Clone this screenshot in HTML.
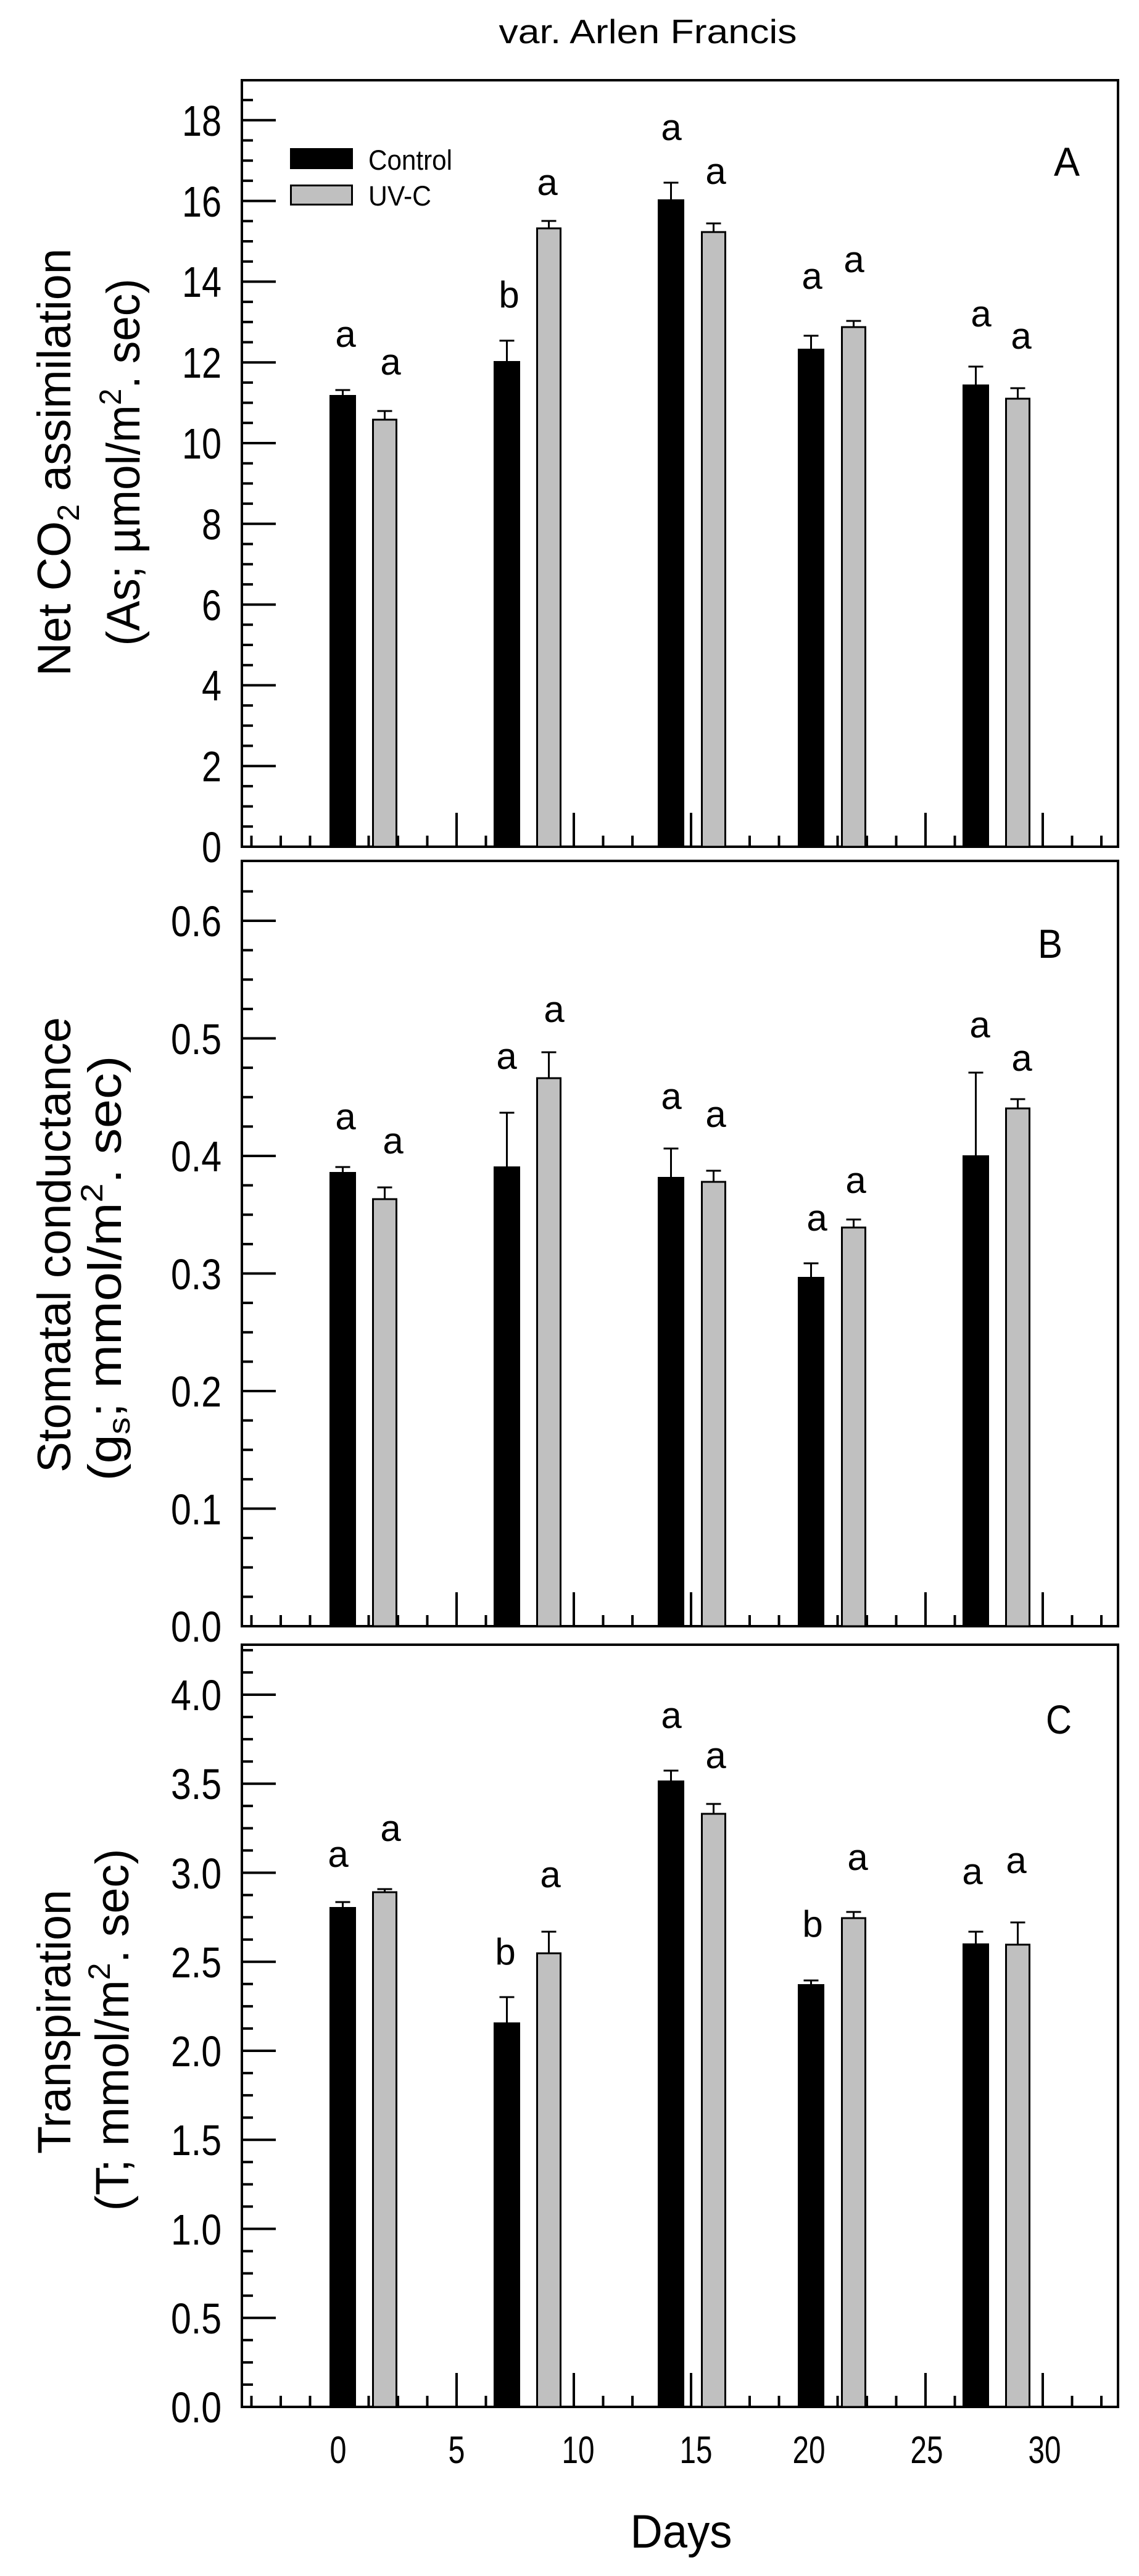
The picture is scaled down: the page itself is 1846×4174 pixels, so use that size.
<!DOCTYPE html>
<html><head><meta charset="utf-8"><style>html,body{margin:0;padding:0;background:#fff}svg{display:block}text{font-family:"Liberation Sans",Arial,sans-serif;fill:#000}</style></head>
<body>
<svg width="1846" height="4174" viewBox="0 0 1846 4174" xmlns="http://www.w3.org/2000/svg">
<text x="1050" y="70" font-size="55" text-anchor="middle" textLength="483" lengthAdjust="spacingAndGlyphs">var. Arlen Francis</text>

<g stroke="#000" stroke-width="4" fill="none">
<rect x="392" y="130" width="1420" height="1242"/>
<rect x="392" y="1395" width="1420" height="1240"/>
<rect x="392" y="2665" width="1420" height="1235"/>
</g>
<g stroke="#000" stroke-width="4" fill="none">
<path d="M392 1372h55M392 1241.2h55M392 1110.4h55M392 979.6h55M392 848.8h55M392 718h55M392 587.2h55M392 456.4h55M392 325.6h55M392 194.8h55"/>
<path d="M392 1339.3h18M392 1306.6h18M392 1273.9h18M392 1208.5h18M392 1175.8h18M392 1143.1h18M392 1077.7h18M392 1045h18M392 1012.3h18M392 946.9h18M392 914.2h18M392 881.5h18M392 816.1h18M392 783.4h18M392 750.7h18M392 685.3h18M392 652.6h18M392 619.9h18M392 554.5h18M392 521.8h18M392 489.1h18M392 423.7h18M392 391h18M392 358.3h18M392 292.9h18M392 260.2h18M392 227.5h18M392 162.1h18"/>
<path d="M392 2635h55M392 2444.5h55M392 2254h55M392 2063.5h55M392 1873h55M392 1682.5h55M392 1492h55"/>
<path d="M392 2587.4h18M392 2539.8h18M392 2492.1h18M392 2396.9h18M392 2349.3h18M392 2301.6h18M392 2206.4h18M392 2158.8h18M392 2111.1h18M392 2015.9h18M392 1968.3h18M392 1920.6h18M392 1825.4h18M392 1777.8h18M392 1730.1h18M392 1634.9h18M392 1587.3h18M392 1539.6h18M392 1444.4h18"/>
<path d="M392 3900h55M392 3755.75h55M392 3611.5h55M392 3467.25h55M392 3323h55M392 3178.75h55M392 3034.5h55M392 2890.25h55M392 2746h55"/>
<path d="M392 3863.9h18M392 3827.9h18M392 3791.8h18M392 3719.7h18M392 3683.6h18M392 3647.6h18M392 3575.4h18M392 3539.4h18M392 3503.3h18M392 3431.2h18M392 3395.1h18M392 3359.1h18M392 3286.9h18M392 3250.9h18M392 3214.8h18M392 3142.7h18M392 3106.6h18M392 3070.6h18M392 2998.4h18M392 2962.4h18M392 2926.3h18M392 2854.2h18M392 2818.1h18M392 2782.1h18M392 2709.9h18M392 2673.9h18"/>
</g>
<defs>
<path id="xt" d="M550 0v-55M740 0v-55M930 0v-55M1120 0v-55M1310 0v-55M1500 0v-55M1690 0v-55M407.5 0v-18M455 0v-18M502.5 0v-18M597.5 0v-18M645 0v-18M692.5 0v-18M787.5 0v-18M835 0v-18M882.5 0v-18M977.5 0v-18M1025 0v-18M1072.5 0v-18M1167.5 0v-18M1215 0v-18M1262.5 0v-18M1357.5 0v-18M1405 0v-18M1452.5 0v-18M1547.5 0v-18M1595 0v-18M1642.5 0v-18M1737.5 0v-18M1785 0v-18"/>
</defs>
<g stroke="#000" stroke-width="4" fill="none">
<use href="#xt" transform="translate(0,1372)"/>
<use href="#xt" transform="translate(0,2635)"/>
<use href="#xt" transform="translate(0,3900)"/>
</g>

<g font-size="70" text-anchor="end">
<text x="359" y="1397" textLength="32" lengthAdjust="spacingAndGlyphs">0</text>
<text x="359" y="1266" textLength="32" lengthAdjust="spacingAndGlyphs">2</text>
<text x="359" y="1135" textLength="32" lengthAdjust="spacingAndGlyphs">4</text>
<text x="359" y="1005" textLength="32" lengthAdjust="spacingAndGlyphs">6</text>
<text x="359" y="874" textLength="32" lengthAdjust="spacingAndGlyphs">8</text>
<text x="359" y="743" textLength="64" lengthAdjust="spacingAndGlyphs">10</text>
<text x="359" y="612" textLength="64" lengthAdjust="spacingAndGlyphs">12</text>
<text x="359" y="481" textLength="64" lengthAdjust="spacingAndGlyphs">14</text>
<text x="359" y="351" textLength="64" lengthAdjust="spacingAndGlyphs">16</text>
<text x="359" y="220" textLength="64" lengthAdjust="spacingAndGlyphs">18</text>

<text x="359" y="2660" textLength="82" lengthAdjust="spacingAndGlyphs">0.0</text>
<text x="359" y="2470" textLength="82" lengthAdjust="spacingAndGlyphs">0.1</text>
<text x="359" y="2279" textLength="82" lengthAdjust="spacingAndGlyphs">0.2</text>
<text x="359" y="2089" textLength="82" lengthAdjust="spacingAndGlyphs">0.3</text>
<text x="359" y="1898" textLength="82" lengthAdjust="spacingAndGlyphs">0.4</text>
<text x="359" y="1708" textLength="82" lengthAdjust="spacingAndGlyphs">0.5</text>
<text x="359" y="1517" textLength="82" lengthAdjust="spacingAndGlyphs">0.6</text>

<text x="359" y="3925" textLength="82" lengthAdjust="spacingAndGlyphs">0.0</text>
<text x="359" y="3781" textLength="82" lengthAdjust="spacingAndGlyphs">0.5</text>
<text x="359" y="3637" textLength="82" lengthAdjust="spacingAndGlyphs">1.0</text>
<text x="359" y="3492" textLength="82" lengthAdjust="spacingAndGlyphs">1.5</text>
<text x="359" y="3348" textLength="82" lengthAdjust="spacingAndGlyphs">2.0</text>
<text x="359" y="3204" textLength="82" lengthAdjust="spacingAndGlyphs">2.5</text>
<text x="359" y="3060" textLength="82" lengthAdjust="spacingAndGlyphs">3.0</text>
<text x="359" y="2915" textLength="82" lengthAdjust="spacingAndGlyphs">3.5</text>
<text x="359" y="2771" textLength="82" lengthAdjust="spacingAndGlyphs">4.0</text>
</g>
<g font-size="62" text-anchor="middle">
<text x="548" y="3991" textLength="27" lengthAdjust="spacingAndGlyphs">0</text>
<text x="740" y="3991" textLength="27" lengthAdjust="spacingAndGlyphs">5</text>
<text x="937" y="3991" textLength="53" lengthAdjust="spacingAndGlyphs">10</text>
<text x="1128" y="3991" textLength="53" lengthAdjust="spacingAndGlyphs">15</text>
<text x="1311" y="3991" textLength="53" lengthAdjust="spacingAndGlyphs">20</text>
<text x="1502" y="3991" textLength="53" lengthAdjust="spacingAndGlyphs">25</text>
<text x="1693" y="3991" textLength="53" lengthAdjust="spacingAndGlyphs">30</text>
</g>
<text x="1104" y="4128" font-size="76" text-anchor="middle" textLength="165" lengthAdjust="spacingAndGlyphs">Days</text>

<g font-size="76" text-anchor="middle">
<text transform="translate(114,749) rotate(-90)" textLength="693" lengthAdjust="spacingAndGlyphs">Net CO<tspan font-size="50" dy="14">2</tspan><tspan dy="-14"> assimilation</tspan></text>
<text transform="translate(226,749) rotate(-90)" textLength="595" lengthAdjust="spacingAndGlyphs">(As; µmol/m<tspan font-size="50" dy="-30">2</tspan><tspan dy="30">. sec)</tspan></text>
<text transform="translate(114,2017) rotate(-90)" textLength="738" lengthAdjust="spacingAndGlyphs">Stomatal conductance</text>
<text transform="translate(196,2055) rotate(-90)" textLength="689" lengthAdjust="spacingAndGlyphs">(g<tspan font-size="50" dy="14">s</tspan><tspan dy="-14">; mmol/m</tspan><tspan font-size="50" dy="-30">2</tspan><tspan dy="30">. sec)</tspan></text>
<text transform="translate(114,3276) rotate(-90)" textLength="428" lengthAdjust="spacingAndGlyphs">Transpiration</text>
<text transform="translate(208,3289) rotate(-90)" textLength="587" lengthAdjust="spacingAndGlyphs">(T; mmol/m<tspan font-size="50" dy="-30">2</tspan><tspan dy="30">. sec)</tspan></text>
</g>

<rect x="470" y="240" width="102" height="34" fill="#000"/>
<rect x="471.5" y="300.5" width="99" height="31" fill="#c0c0c0" stroke="#000" stroke-width="3"/>
<text x="597" y="275" font-size="45" textLength="136" lengthAdjust="spacingAndGlyphs">Control</text>
<text x="597" y="333" font-size="45" textLength="102" lengthAdjust="spacingAndGlyphs">UV-C</text>

<text x="1729" y="285" font-size="66" text-anchor="middle" textLength="42" lengthAdjust="spacingAndGlyphs">A</text>
<text x="1702" y="1552" font-size="66" text-anchor="middle" textLength="40" lengthAdjust="spacingAndGlyphs">B</text>
<text x="1716" y="2809" font-size="66" text-anchor="middle" textLength="42" lengthAdjust="spacingAndGlyphs">C</text>

<g stroke="#000" stroke-width="3" fill="none">
<path d="M555.5 640V632M543.5 632h24M623.5 680V666M611.5 666h24M821.5 585V552M809.5 552h24M889.5 370V358M877.5 358h24M1087.5 323V296M1075.5 296h24M1156.5 376V362M1144.5 362h24M1314.5 565V544M1302.5 544h24M1383.5 530V520M1371.5 520h24M1581.5 623V594M1569.5 594h24M1649.5 646V629M1637.5 629h24"/>
<path d="M555.5 1899V1891M543.5 1891h24M623.5 1943V1924M611.5 1924h24M821.5 1890V1803M809.5 1803h24M889.5 1747V1705M877.5 1705h24M1087.5 1907V1861M1075.5 1861h24M1156.5 1915V1897M1144.5 1897h24M1314.5 2069V2047M1302.5 2047h24M1383.5 1989V1976M1371.5 1976h24M1581.5 1872V1738M1569.5 1738h24M1649.5 1796V1781M1637.5 1781h24"/>
<path d="M555.5 3090V3082M543.5 3082h24M623.5 3066V3061M611.5 3061h24M821.5 3277V3236M809.5 3236h24M889.5 3165V3130M877.5 3130h24M1087.5 2885V2869M1075.5 2869h24M1156.5 2939V2923M1144.5 2923h24M1314.5 3215V3209M1302.5 3209h24M1383.5 3108V3098M1371.5 3098h24M1581.5 3149V3130M1569.5 3130h24M1649.5 3151V3115M1637.5 3115h24"/>
</g>

<g fill="#000">
<rect x="534" y="640" width="43" height="732"/>
<rect x="800" y="585" width="43" height="787"/>
<rect x="1066" y="323" width="43" height="1049"/>
<rect x="1293" y="565" width="43" height="807"/>
<rect x="1560" y="623" width="43" height="749"/>
<rect x="534" y="1899" width="43" height="736"/>
<rect x="800" y="1890" width="43" height="745"/>
<rect x="1066" y="1907" width="43" height="728"/>
<rect x="1293" y="2069" width="43" height="566"/>
<rect x="1560" y="1872" width="43" height="763"/>
<rect x="534" y="3090" width="43" height="810"/>
<rect x="800" y="3277" width="43" height="623"/>
<rect x="1066" y="2885" width="43" height="1015"/>
<rect x="1293" y="3215" width="43" height="685"/>
<rect x="1560" y="3149" width="43" height="751"/>
</g>
<g fill="#c0c0c0" stroke="#000" stroke-width="3">
<rect x="604.5" y="680" width="38" height="692"/>
<rect x="870.5" y="370" width="38" height="1002"/>
<rect x="1137.5" y="376" width="38" height="996"/>
<rect x="1364.5" y="530" width="38" height="842"/>
<rect x="1630.5" y="646" width="38" height="726"/>
<rect x="604.5" y="1943" width="38" height="692"/>
<rect x="870.5" y="1747" width="38" height="888"/>
<rect x="1137.5" y="1915" width="38" height="720"/>
<rect x="1364.5" y="1989" width="38" height="646"/>
<rect x="1630.5" y="1796" width="38" height="839"/>
<rect x="604.5" y="3066" width="38" height="834"/>
<rect x="870.5" y="3165" width="38" height="735"/>
<rect x="1137.5" y="2939" width="38" height="961"/>
<rect x="1364.5" y="3108" width="38" height="792"/>
<rect x="1630.5" y="3151" width="38" height="749"/>
</g>

<g font-size="60" text-anchor="middle">
<text x="560" y="562">a</text><text x="633" y="607">a</text>
<text x="825" y="498">b</text><text x="887" y="316">a</text>
<text x="1088" y="227">a</text><text x="1160" y="298">a</text>
<text x="1316" y="468">a</text><text x="1384" y="441">a</text>
<text x="1590" y="529">a</text><text x="1655" y="565">a</text>

<text x="560" y="1830">a</text><text x="637" y="1869">a</text>
<text x="821" y="1732">a</text><text x="898" y="1656">a</text>
<text x="1088" y="1797">a</text><text x="1160" y="1826">a</text>
<text x="1324" y="1994">a</text><text x="1387" y="1933">a</text>
<text x="1588" y="1681">a</text><text x="1656" y="1735">a</text>

<text x="548" y="3025">a</text><text x="633" y="2983">a</text>
<text x="819" y="3183">b</text><text x="892" y="3058">a</text>
<text x="1088" y="2800">a</text><text x="1160" y="2865">a</text>
<text x="1317" y="3138">b</text><text x="1390" y="3030">a</text>
<text x="1576" y="3053">a</text><text x="1647" y="3035">a</text>
</g>
</svg>
</body></html>
